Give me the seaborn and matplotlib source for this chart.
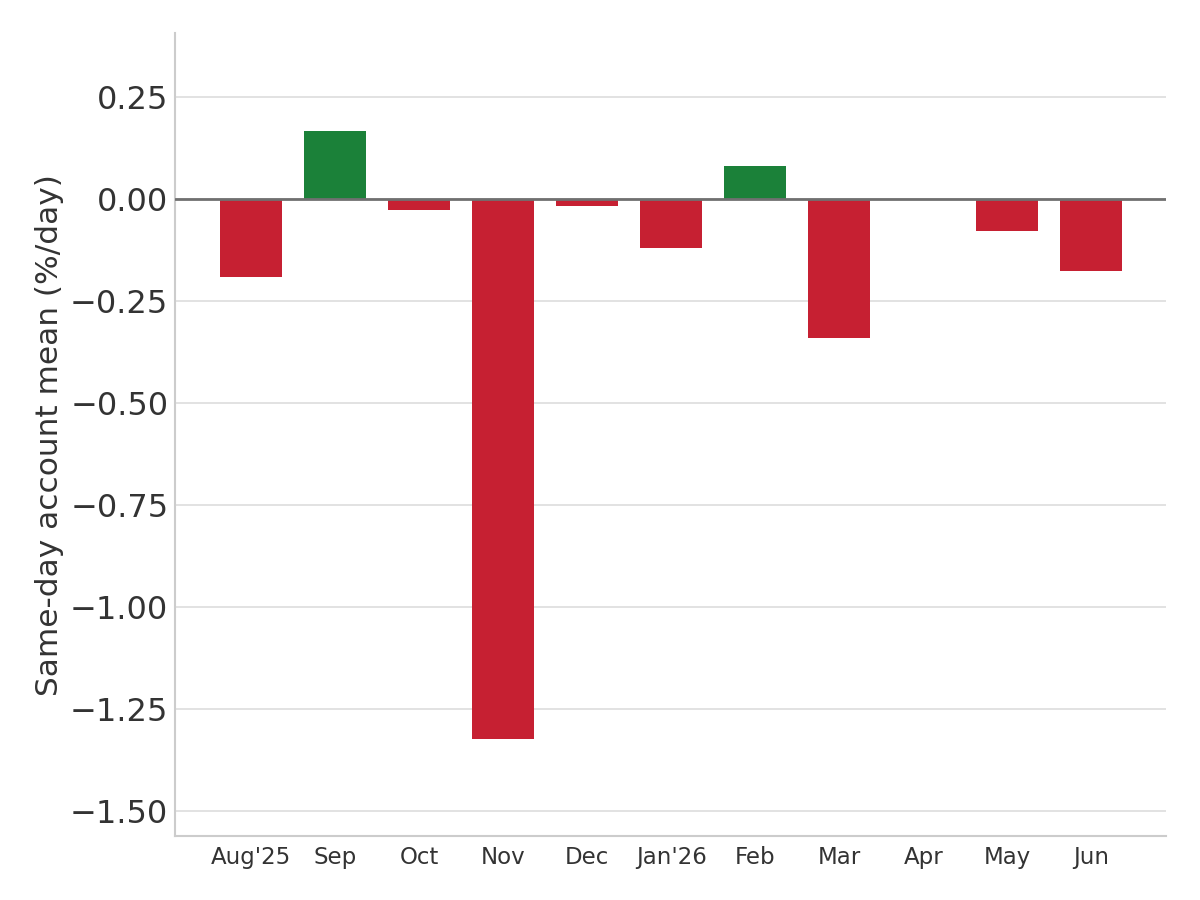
import pandas as pd
import matplotlib
matplotlib.use("Agg")
import matplotlib.pyplot as plt
import seaborn as sns

# Monthly same-day account mean (%/day)
months = ["Aug'25", "Sep", "Oct", "Nov", "Dec", "Jan'26", "Feb", "Mar", "Apr", "May", "Jun"]
values = [-0.191, 0.167, -0.027, -1.324, -0.017, -0.120, 0.081, -0.341, 0.0, -0.078, -0.176]

df = pd.DataFrame({"month": months, "value": values})
df["sign"] = ["pos" if v > 0 else "neg" for v in values]

sns.set_style("whitegrid")
plt.rcParams["font.family"] = ["DejaVu Sans"]

fig, ax = plt.subplots(figsize=(12, 9), dpi=100)
fig.subplots_adjust(left=0.146, right=0.972, top=0.963, bottom=0.071)

sns.barplot(data=df, x="month", y="value", hue="sign",
            palette={"pos": "#1b8139", "neg": "#c62032"},
            width=0.74, dodge=False, legend=False, ax=ax, saturation=1,
            linewidth=0)

ax.axhline(0, color="#707070", linewidth=2, zorder=3)

ax.set_ylim(-1.561, 0.407)
ax.set_xlim(-0.905, 10.895)
ax.set_yticks([0.25, 0.0, -0.25, -0.5, -0.75, -1.0, -1.25, -1.5])

ax.grid(axis="x", visible=False)
ax.grid(axis="y", color="#dddddd", linewidth=1.2)
ax.set_axisbelow(True)

for side in ["top", "right"]:
    ax.spines[side].set_visible(False)
for side in ["left", "bottom"]:
    ax.spines[side].set_color("#cccccc")
    ax.spines[side].set_linewidth(1.5)

ax.tick_params(axis="y", labelsize=23, colors="#333333", length=0, pad=5)
ax.tick_params(axis="x", labelsize=16.5, colors="#333333", length=0, pad=7)

ax.set_xlabel("")
ax.set_ylabel("Same-day account mean (%/day)", fontsize=22.5, color="#333333", labelpad=4)

plt.savefig("out.png")
